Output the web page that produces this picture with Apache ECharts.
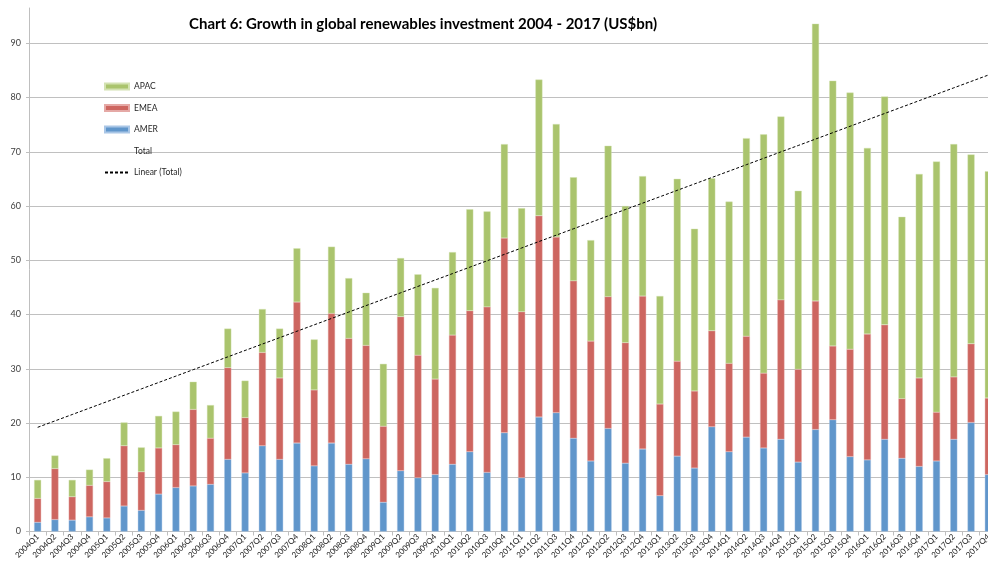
<!DOCTYPE html>
<html><head><meta charset="utf-8">
<script src="https://cdn.jsdelivr.net/npm/echarts@6/dist/echarts.min.js"></script>
<style>html,body{margin:0;padding:0;overflow:hidden;background:#fff;width:988px;height:564px}
#c{width:997px;height:564px}</style></head>
<body><div id="c"></div>
<script>
const categories = ['2004Q1','2004Q2','2004Q3','2004Q4','2005Q1','2005Q2','2005Q3','2005Q4',
'2006Q1','2006Q2','2006Q3','2006Q4','2007Q1','2007Q2','2007Q3','2007Q4',
'2008Q1','2008Q2','2008Q3','2008Q4','2009Q1','2009Q2','2009Q3','2009Q4',
'2010Q1','2010Q2','2010Q3','2010Q4','2011Q1','2011Q2','2011Q3','2011Q4',
'2012Q1','2012Q2','2012Q3','2012Q4','2013Q1','2013Q2','2013Q3','2013Q4',
'2014Q1','2014Q2','2014Q3','2014Q4','2015Q1','2015Q2','2015Q3','2015Q4',
'2016Q1','2016Q2','2016Q3','2016Q4','2017Q1','2017Q2','2017Q3','2017Q4'];

const amer = [1.7,2.2,2.1,2.7,2.5,4.7,3.9,6.9,
8.1,8.4,8.7,13.3,10.8,15.8,13.3,16.3,
12.1,16.3,12.4,13.4,5.4,11.2,9.9,10.5,
12.4,14.7,10.9,18.2,9.9,21.1,21.9,17.2,
13.0,19.0,12.6,15.2,6.6,13.9,11.7,19.3,
14.7,17.4,15.4,17.0,12.8,18.8,20.6,13.8,
13.2,17.0,13.5,12.0,13.0,17.0,20.1,10.5];

const emea = [4.4,9.4,4.3,5.8,6.7,11.1,7.1,8.5,
7.9,14.1,8.5,16.9,10.2,17.2,15.0,26.0,
14.0,23.9,23.2,20.9,14.0,28.4,22.6,17.6,
23.8,26.0,30.5,35.9,30.6,37.1,32.4,29.0,
22.1,24.3,22.2,28.2,16.9,17.5,14.2,17.7,
16.3,18.6,13.8,25.7,17.1,23.7,13.6,19.8,
23.2,21.1,11.0,16.3,9.0,11.5,14.5,14.1];

const apac = [3.4,2.4,3.1,2.9,4.3,4.3,4.5,5.9,
6.1,5.1,6.1,7.2,6.8,8.0,9.1,9.9,
9.3,12.3,11.1,9.7,11.5,10.8,14.9,16.8,
15.3,18.7,17.6,17.3,19.1,25.1,20.8,19.1,
18.6,27.8,25.2,22.1,19.9,33.6,29.9,28.1,
29.8,36.5,44.0,33.8,32.9,51.1,48.9,47.3,
34.3,42.1,33.5,37.6,46.2,42.9,34.9,41.8];

const yTicks = [0,10,20,30,40,50,60,70,80,90];

const total = amer.map((v, i) => +(v + emea[i] + apac[i]).toFixed(2));
// least-squares linear trend of Total (as in the Excel "Linear (Total)" trendline)
const n = total.length;
let sx = 0, sy = 0, sxy = 0, sxx = 0;
total.forEach((y, x) => { sx += x; sy += y; sxy += x * y; sxx += x * x; });
const slope = (n * sxy - sx * sy) / (n * sxx - sx * sx);
const intercept = (sy - slope * sx) / n;
const trend = total.map((_, x) => +(intercept + slope * x).toFixed(3));

const chart = echarts.init(document.getElementById('c'), null, {renderer: 'canvas'});
const font = 'Lato, "Liberation Sans", sans-serif';
const barW = 7;
chart.setOption({
  animation: false,
  textStyle: {fontFamily: font},
  title: {
    text: 'Chart 6: Growth in global renewables investment 2004 - 2017 (US$bn)',
    left: 184, top: 12,
    textStyle: {fontFamily: font, fontWeight: 'bold', fontSize: 15, color: '#000'}
  },
  legend: {
    orient: 'vertical', left: 104, top: 81, padding: 0, itemWidth: 24, itemHeight: 6, itemGap: 10.5,
    textStyle: {fontFamily: font, fontSize: 8.5, color: '#262626', lineHeight: 11},
    data: [
      {name: 'APAC', icon: 'rect'},
      {name: 'EMEA', icon: 'rect'},
      {name: 'AMER', icon: 'rect'},
      {name: 'Total', itemStyle: {opacity: 0}, lineStyle: {opacity: 0}},
      {name: 'Linear (Total)', itemStyle: {opacity: 0}}
    ]
  },
  grid: {left: 29, right: 0, top: 8, bottom: 32.5},
  xAxis: {
    type: 'category', data: categories, boundaryGap: true,
    axisLine: {lineStyle: {color: '#bfbfbf', width: 1}},
    axisTick: {show: true, length: 4, interval: 0, lineStyle: {color: '#bfbfbf'}},
    axisLabel: {interval: 0, rotate: 45, fontSize: 8, color: '#1a1a1a', margin: 4, fontFamily: font}
  },
  yAxis: {
    type: 'value', min: 0, max: 96.5, interval: 10,
    axisLine: {show: true, lineStyle: {color: '#bfbfbf', width: 1}},
    axisTick: {show: true, length: 3, customValues: yTicks, lineStyle: {color: '#bfbfbf'}},
    axisLabel: {fontSize: 9, color: '#404040', margin: 8, customValues: yTicks,
      formatter: v => (v % 10 === 0 ? String(v) : '')},
    splitLine: {show: true, lineStyle: {color: '#c0c0c0', width: 1.2}}
  },
  series: [
    {name: 'AMER', type: 'bar', stack: 's', barWidth: barW, data: amer,
     itemStyle: {color: '#6096cb', borderColor: '#a9c6e6', borderWidth: 0.4}},
    {name: 'EMEA', type: 'bar', stack: 's', barWidth: barW, data: emea,
     itemStyle: {color: '#cd6660', borderColor: '#e5a9a6', borderWidth: 0.4}},
    {name: 'APAC', type: 'bar', stack: 's', barWidth: barW, data: apac,
     itemStyle: {color: '#aac46d', borderColor: '#d3e2b2', borderWidth: 0.4}},
    {name: 'Total', type: 'line', data: total, symbol: 'none', showSymbol: false,
     lineStyle: {opacity: 0}, itemStyle: {opacity: 0}, silent: true},
    {name: 'Linear (Total)', type: 'line', data: trend, symbol: 'none', showSymbol: false, z: 5,
     lineStyle: {color: '#000', width: 1, type: [3, 2]}, itemStyle: {color: '#000'}}
  ]
});
</script>
</body></html>
